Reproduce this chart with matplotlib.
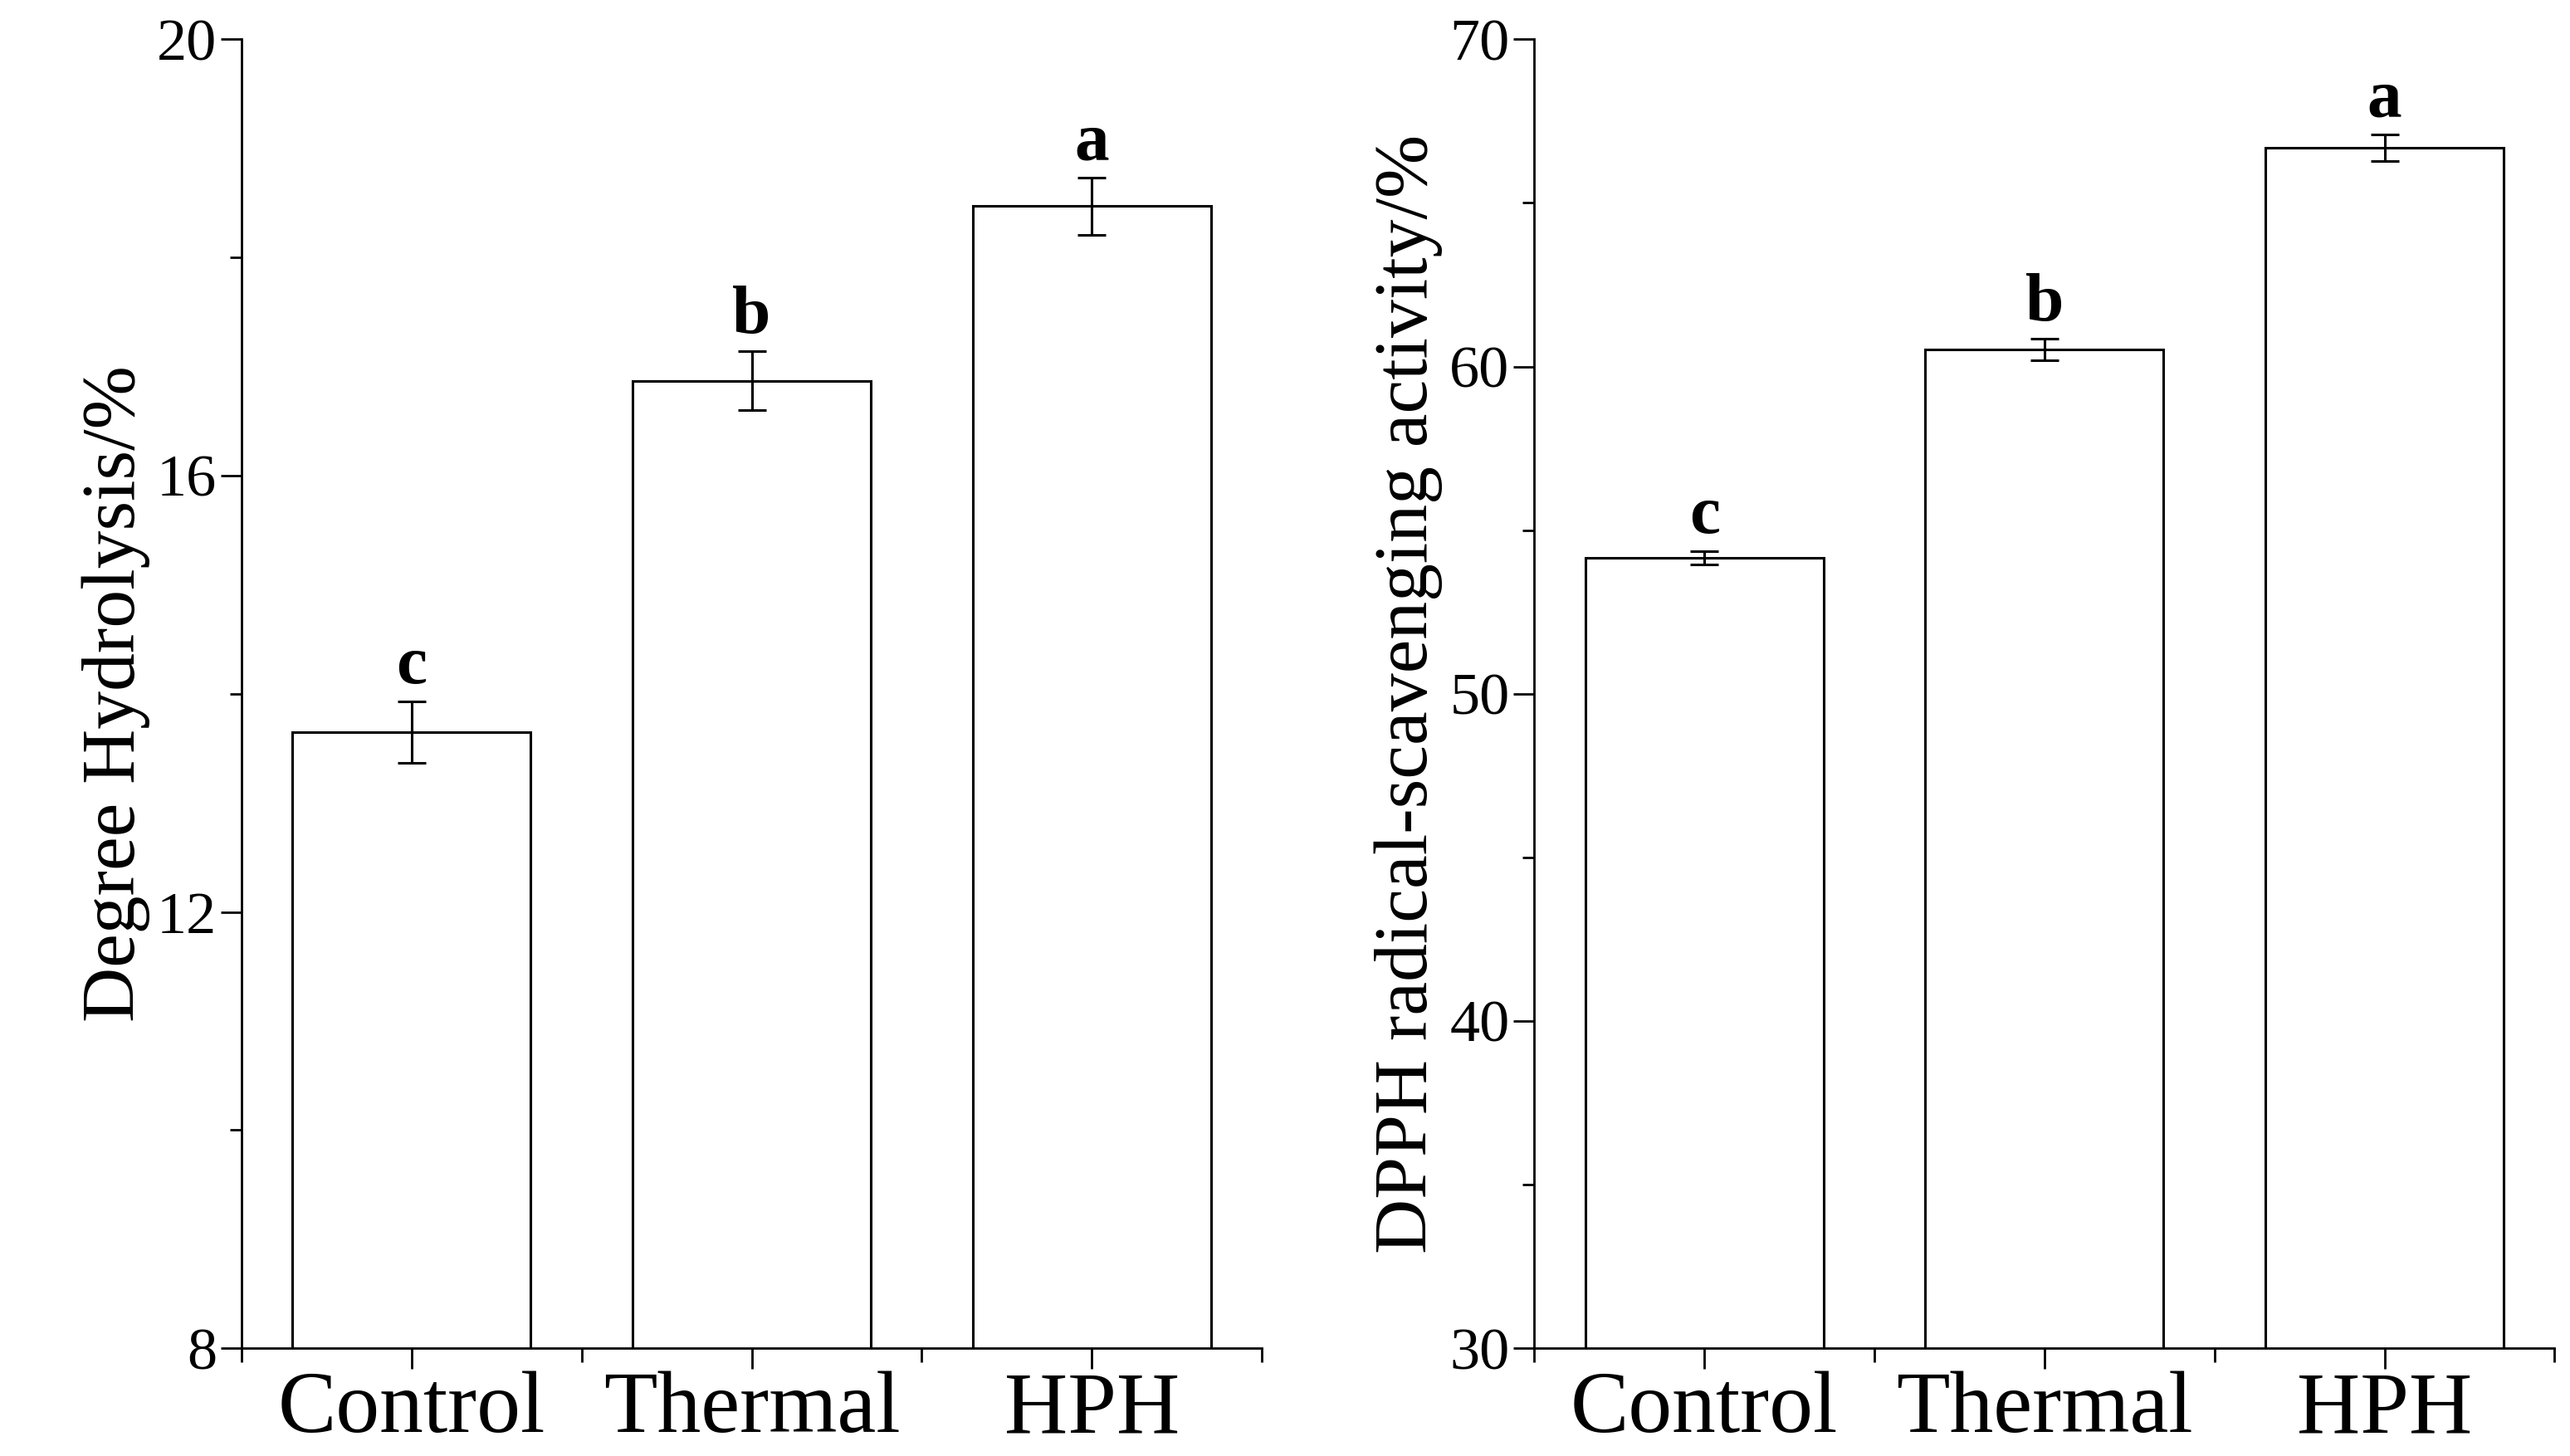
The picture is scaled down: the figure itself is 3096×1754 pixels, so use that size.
import numpy as np
import matplotlib.pyplot as plt

plt.rcParams['font.family'] = ['Liberation Serif', 'DejaVu Serif']

categories = ['Control', 'Thermal', 'HPH']
dh_values = [13.65, 16.87, 18.47]
dh_errors = [0.28, 0.27, 0.26]
dh_letters = ['c', 'b', 'a']
dpph_values = [54.15, 60.53, 66.69]
dpph_errors = [0.2, 0.33, 0.4]
dpph_letters = ['c', 'b', 'a']

fig = plt.figure(figsize=(30.96, 17.54), dpi=100)
ax1 = fig.add_axes([0.094, 0.074, 0.397, 0.899])
ax2 = fig.add_axes([0.597, 0.074, 0.397, 0.899])

def panel(ax, vals, errs, letters, ylim, major, minor, ylabel, pad):
    x = np.arange(len(categories))
    ax.bar(x, vals, width=0.7, color='white', edgecolor='black', linewidth=2.2)
    ax.errorbar(x, vals, yerr=errs, fmt='none', ecolor='black', elinewidth=2.2, capsize=12, capthick=2.2)
    for xi, v, e, l in zip(x, vals, errs, letters):
        ax.text(xi, v + e + pad, l, ha='center', va='bottom', fontsize=60, fontweight='bold')
    ax.set_xlim(-0.5, 2.5)
    ax.set_ylim(*ylim)
    ax.set_yticks(major)
    ax.set_yticks(minor, minor=True)
    ax.set_xticks(x)
    ax.set_xticklabels(categories, fontsize=76)
    ax.set_xticks([-0.5, 0.5, 1.5, 2.5], minor=True)
    ax.tick_params(axis='y', labelsize=52, length=18, width=2, direction='out')
    ax.tick_params(axis='y', which='minor', length=10, width=2)
    ax.tick_params(axis='x', length=18, width=2, pad=2)
    ax.tick_params(axis='x', which='minor', length=12, width=2)
    ax.spines['top'].set_visible(False)
    ax.spines['right'].set_visible(False)
    for s in ['left', 'bottom']:
        ax.spines[s].set_linewidth(2)
    ax.set_ylabel(ylabel, fontsize=66, labelpad=6)

panel(ax1, dh_values, dh_errors, dh_letters, (8, 20), [8, 12, 16, 20], [10, 14, 18],
      'Degree Hydrolysis/%', 0.03)
panel(ax2, dpph_values, dpph_errors, dpph_letters, (30, 70), [30, 40, 50, 60, 70], [35, 45, 55, 65],
      'DPPH radical-scavenging activity/%', 0.1)

fig.savefig('out.png', dpi=100)
